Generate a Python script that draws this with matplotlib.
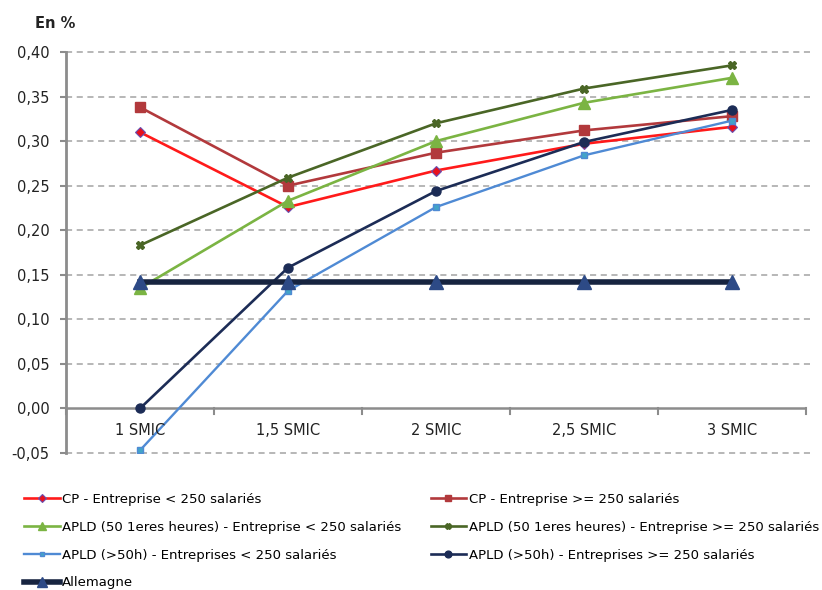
import matplotlib
matplotlib.use("Agg")
import matplotlib.pyplot as plt
import numpy as np

categories = ["1 SMIC", "1,5 SMIC", "2 SMIC", "2,5 SMIC", "3 SMIC"]
cp_small = [0.310, 0.226, 0.267, 0.297, 0.316]
cp_large = [0.338, 0.250, 0.287, 0.312, 0.328]
apld50_small = [0.135, 0.233, 0.300, 0.343, 0.371]
apld50_large = [0.183, 0.259, 0.320, 0.359, 0.385]
apldover_small = [-0.047, 0.132, 0.226, 0.284, 0.323]
apldover_large = [0.000, 0.158, 0.244, 0.299, 0.335]
allemagne = [0.142, 0.142, 0.142, 0.142, 0.142]

labels = [
    "CP - Entreprise < 250 salariés",
    "CP - Entreprise >= 250 salariés",
    "APLD (50 1eres heures) - Entreprise < 250 salariés",
    "APLD (50 1eres heures) - Entreprise >= 250 salariés",
    "APLD (>50h) - Entreprises < 250 salariés",
    "APLD (>50h) - Entreprises >= 250 salariés",
    "Allemagne",
]
yticks = [-0.05, 0.0, 0.05, 0.10, 0.15, 0.20, 0.25, 0.30, 0.35, 0.40]

plt.rcParams['font.family'] = ['DejaVu Sans']

fig = plt.figure(figsize=(8.22, 5.90), dpi=100)
ax = fig.add_axes([66/822, 1-453/590, (806-66)/822, (453-52)/590])

x = np.arange(1, len(categories)+1)

styles = [
    dict(color="#FF1A1A", lw=1.9, marker="D", ms=5.5, mfc="#E8101C", mec="#6A4FB0", mew=0.8),
    dict(color="#B2393C", lw=1.9, marker="s", ms=6.5, mfc="#B2393C", mec="#B2393C"),
    dict(color="#7BB443", lw=1.9, marker="^", ms=8.5, mfc="#7BB443", mec="#7BB443"),
    dict(color="#4A6626", lw=1.9, marker="X", ms=5.5, mfc="#4A6626", mec="#4A6626"),
    dict(color="#4F8AD4", lw=1.7, marker="s", ms=4.5, mfc="#43A4C8", mec="#4F8AD4"),
    dict(color="#1C2C56", lw=1.9, marker="o", ms=6.5, mfc="#1C2C56", mec="#1C2C56"),
    dict(color="#172440", lw=4.0, marker="^", ms=9.5, mfc="#2D4A86", mec="#2D4A86"),
]
series = [cp_small, cp_large, apld50_small, apld50_large, apldover_small, apldover_large, allemagne]

handles = []
for s, st, lab in zip(series, styles, labels):
    h, = ax.plot(x, s, label=lab, zorder=3, **st)
    handles.append(h)

ax.set_xlim(0.5, len(categories)+0.5)
ax.set_ylim(-0.05, 0.40)
ax.set_yticks(yticks)
ax.set_yticklabels([f"{v:.2f}".replace(".", ",") for v in yticks], fontsize=10.5, color="#222222")
ax.tick_params(axis='y', length=4, width=1.5, color="#8C8C8C", pad=8, direction='out')
ax.set_xticks([])

for v in yticks:
    if abs(v) > 1e-9:
        ax.axhline(v, color="#A3A3A3", lw=1.1, ls=(0, (4, 3)), zorder=1, xmax=1.005, clip_on=False)

ax.axhline(0, color="#8C8C8C", lw=1.8, zorder=2)
for b in np.arange(0.5, len(categories)+1, 1.0):
    ax.plot([b, b], [0, -0.006], color="#8C8C8C", lw=1.5, zorder=2, clip_on=False)

for xi, c in zip(x, categories):
    ax.text(xi, -0.025, c, ha="center", va="center", fontsize=10.5, color="#222222")

for sp in ["top", "right", "bottom"]:
    ax.spines[sp].set_visible(False)
ax.spines["left"].set_color("#8C8C8C")
ax.spines["left"].set_linewidth(2.0)

fig.text(35/822, 1-23/590, "En %", fontsize=10.5, fontweight="bold", color="#222222", va="center")

order = [0, 2, 4, 6, 1, 3, 5]
leg = fig.legend([handles[i] for i in order], [labels[i] for i in order],
                 ncol=2, loc="upper left", bbox_to_anchor=(24/822, 1-493/590),
                 frameon=False, fontsize=9.5, handlelength=2.7, handletextpad=0.2,
                 labelspacing=1.12, columnspacing=2.2, markerscale=0.75,
                 borderpad=0, borderaxespad=0)

fig.savefig("out.png", dpi=100, facecolor="white")
